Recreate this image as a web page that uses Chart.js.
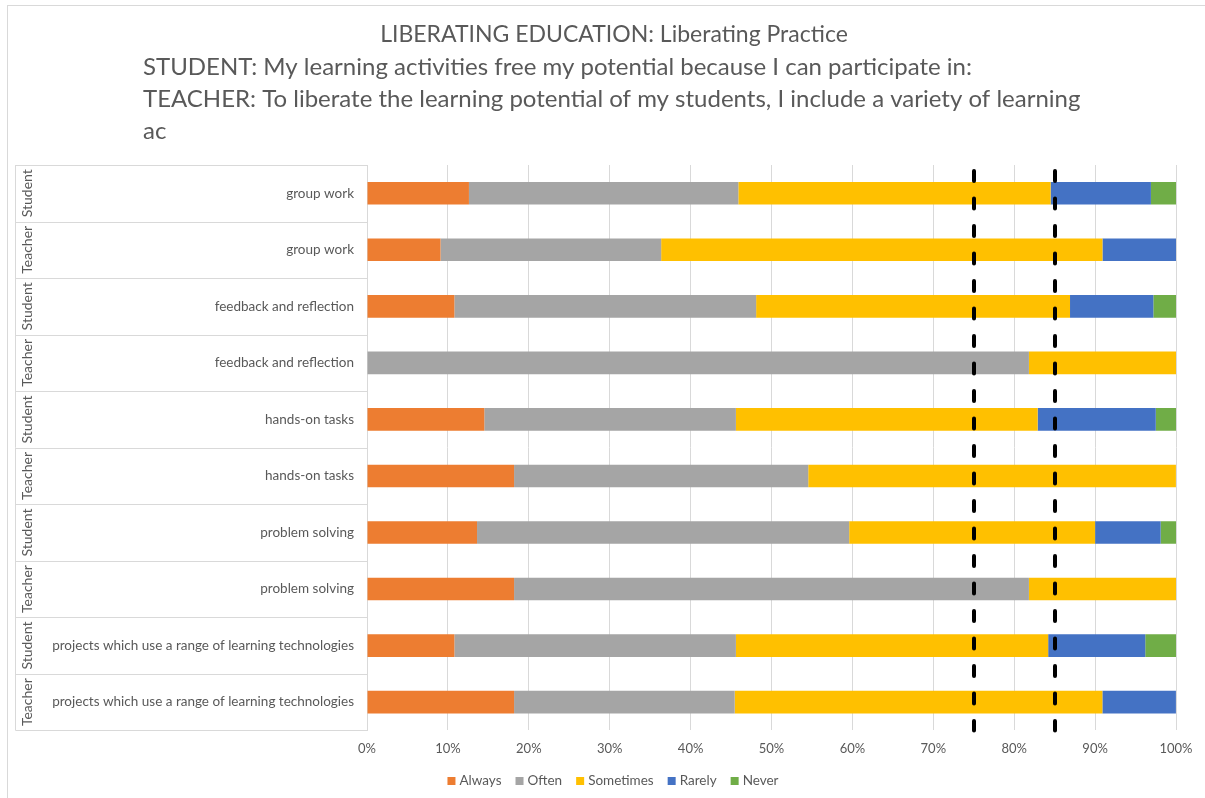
<!DOCTYPE html>
<html>
<head>
<meta charset="utf-8">
<script src="https://cdn.jsdelivr.net/npm/chart.js@4.4.1/dist/chart.umd.min.js"></script>
<style>
  body { margin: 0; background: #fff; }
</style>
</head>
<body>
<canvas id="bar-chart" width="1205" height="798"></canvas>
<script>
// rows, top to bottom
const categories = [
  'group work', 'group work',
  'feedback and reflection', 'feedback and reflection',
  'hands-on tasks', 'hands-on tasks',
  'problem solving', 'problem solving',
  'projects which use a range of learning technologies', 'projects which use a range of learning technologies',
];
const groups = ['Student', 'Teacher', 'Student', 'Teacher', 'Student', 'Teacher', 'Student', 'Teacher', 'Student', 'Teacher'];

// percentages per answer
const always    = [12.6,  9.09, 10.8,  0,     14.5, 18.18, 13.6, 18.18, 10.8, 18.18];
const often     = [33.3, 27.27, 37.3, 81.82,  31.1, 36.36, 46.0, 63.64, 34.8, 27.27];
const sometimes = [38.6, 54.55, 38.8, 18.18,  37.3, 45.45, 30.4, 18.18, 38.6, 45.45];
const rarely    = [12.4,  9.09, 10.3,  0,     14.6,  0,     8.1,  0,    12.0,  9.09];
const never     = [3.1,   0,     2.8,  0,      2.5,  0,     1.9,  0,     3.8,  0];

const seriesNames = ['Always', 'Often', 'Sometimes', 'Rarely', 'Never'];
const seriesColors = ['#ED7D31', '#A5A5A5', '#FFC000', '#4472C4', '#70AD47'];

// dashed markers on the x axis
const refLines = [75, 85];

const titleLines = [
  'LIBERATING EDUCATION: Liberating Practice',
  'STUDENT: My learning activities free my potential because I can participate in:',
  'TEACHER: To liberate the learning potential of my students, I include a variety of learning',
  'ac',
];

const FONT = 'Lato, "Liberation Sans", sans-serif';
const TEXT = '#595959';
const GRID = '#d9d9d9';

// title, frame, label table, dashed lines and legend
const decorations = {
  id: 'decorations',
  beforeDraw(chart) {
    const ctx = chart.ctx;
    ctx.save();
    ctx.strokeStyle = GRID;
    ctx.lineWidth = 1;
    ctx.strokeRect(7.5, 5.5, 1400, 1000);

    ctx.fillStyle = TEXT;
    ctx.textBaseline = 'middle';
    ctx.textAlign = 'center';
    ctx.font = '23px ' + FONT;
    ctx.fillText(titleLines[0], 614, 35);
    ctx.textAlign = 'left';
    ctx.font = '24px ' + FONT;
    for (let i = 1; i < titleLines.length; i++) {
      ctx.fillText(titleLines[i], 143, 35 + i * 32);
    }
    ctx.restore();
  },
  afterDatasetsDraw(chart) {
    const ctx = chart.ctx;
    const x = chart.scales.x;
    const area = chart.chartArea;
    ctx.save();
    ctx.strokeStyle = '#000';
    ctx.lineWidth = 4;
    ctx.lineCap = 'round';
    ctx.setLineDash([10, 17.5]);
    refLines.forEach(function (v) {
      const px = Math.round(x.getPixelForValue(v));
      ctx.beginPath();
      ctx.moveTo(px, area.top + 6);
      ctx.lineTo(px, area.bottom);
      ctx.stroke();
    });
    ctx.restore();
  },
  afterDraw(chart) {
    const ctx = chart.ctx;
    const y = chart.scales.y;
    const area = chart.chartArea;
    const step = y.getPixelForValue(1) - y.getPixelForValue(0);
    const left = 15.5;

    ctx.save();
    ctx.strokeStyle = GRID;
    ctx.lineWidth = 1;
    ctx.beginPath();
    ctx.moveTo(left, area.top);
    ctx.lineTo(left, area.bottom);
    for (let i = 0; i <= categories.length; i++) {
      const py = Math.round(y.getPixelForValue(i) - step / 2) + 0.5;
      ctx.moveTo(left, py);
      ctx.lineTo(area.left, py);
    }
    ctx.stroke();

    // Student / Teacher column
    ctx.fillStyle = TEXT;
    ctx.font = '14px ' + FONT;
    ctx.textAlign = 'center';
    ctx.textBaseline = 'middle';
    groups.forEach(function (g, i) {
      ctx.save();
      ctx.translate(27, y.getPixelForValue(i));
      ctx.rotate(-Math.PI / 2);
      ctx.fillText(g, 0, 0);
      ctx.restore();
    });

    // legend
    ctx.font = '13.5px ' + FONT;
    const box = 8, gap = 4, spacing = 14;
    const widths = seriesNames.map(function (n) { return ctx.measureText(n).width; });
    let total = widths.reduce(function (a, b) { return a + b + box + gap; }, 0) + spacing * (seriesNames.length - 1);
    let lx = 613 - total / 2;
    const ly = 781;
    ctx.textAlign = 'left';
    seriesNames.forEach(function (n, i) {
      ctx.fillStyle = seriesColors[i];
      ctx.fillRect(lx, ly - box / 2, box, box);
      ctx.fillStyle = TEXT;
      ctx.fillText(n, lx + box + gap, ly);
      lx += box + gap + widths[i] + spacing;
    });
    ctx.restore();
  },
};

const seriesData = [always, often, sometimes, rarely, never];
const datasets = seriesNames.map(function (name, i) {
  return {
    label: name,
    data: seriesData[i],
    backgroundColor: seriesColors[i],
    borderWidth: 0,
    categoryPercentage: 0.4,
    barPercentage: 1,
  };
});

let ctx = document.getElementById('bar-chart');
const stackedBar = new Chart(ctx, {
  type: 'bar',
  data: { labels: categories, datasets: datasets },
  options: {
    responsive: false,
    animation: false,
    indexAxis: 'y',
    layout: { padding: { top: 165, left: 15, right: 29, bottom: 30 } },
    scales: {
      x: {
        stacked: true,
        min: 0,
        max: 100,
        ticks: {
          stepSize: 10,
          padding: 11,
          color: TEXT,
          font: { family: FONT, size: 13 },
          callback: function (v) { return v + '%'; },
        },
        grid: { color: GRID, drawTicks: false },
        border: { display: false },
      },
      y: {
        stacked: true,
        afterFit: function (scale) { scale.width = 352; },
        ticks: {
          padding: 13,
          color: TEXT,
          font: { family: FONT, size: 13.5 },
        },
        grid: { display: false, drawTicks: false },
        border: { display: true, color: GRID },
      },
    },
    plugins: {
      legend: { display: false },
      tooltip: { enabled: false },
    },
  },
  plugins: [decorations],
});
</script>
</body>
</html>
